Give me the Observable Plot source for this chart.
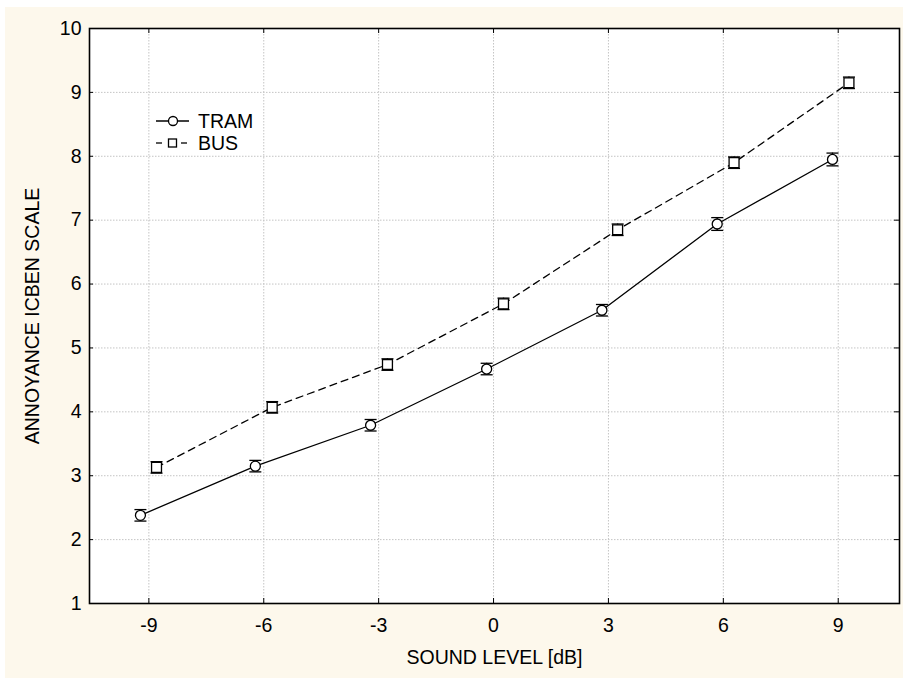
<!DOCTYPE html>
<html><head><meta charset="utf-8">
<script src="https://cdn.jsdelivr.net/npm/d3@7"></script>
<script src="https://cdn.jsdelivr.net/npm/@observablehq/plot@0.6"></script>
<style>
html,body{margin:0;padding:0;background:#fff;}
#wrap{position:relative;width:903px;height:678px;overflow:hidden;}
#bg{position:absolute;left:5px;top:7px;right:0;bottom:0;background:#fdf8ec;}
#chart{position:absolute;left:0;top:0;}
#legend{position:absolute;left:0;top:0;}
</style></head><body>
<div id="wrap"><div id="bg"></div><div id="chart"></div><svg id="legend" width="903" height="678"></svg></div>
<script>
// ---- data ----
const levels = [-9, -6, -3, 0, 3, 6, 9];
const yTicks = [1, 2, 3, 4, 5, 6, 7, 8, 9, 10];
const seriesNames = ["TRAM", "BUS"];
// plotted x positions (series drawn slightly offset around each level)
const tramX = [-9.22, -6.22, -3.21, -0.18, 2.83, 5.84, 8.85];
const tramY = [2.38, 3.15, 3.79, 4.67, 5.59, 6.94, 7.95];
const tramErr = [0.09, 0.09, 0.09, 0.09, 0.09, 0.10, 0.10];
const busX = [-8.80, -5.78, -2.77, 0.26, 3.24, 6.28, 9.28];
const busY = [3.13, 4.07, 4.74, 5.69, 6.85, 7.90, 9.15];
const busErr = [0.09, 0.09, 0.09, 0.09, 0.09, 0.09, 0.09];
const xLabel = "SOUND LEVEL [dB]";
const yLabel = "ANNOYANCE ICBEN SCALE";

const tram = levels.map((l, i) => ({level: l, x: tramX[i], y: tramY[i], lo: tramY[i] - tramErr[i], hi: tramY[i] + tramErr[i]}));
const bus = levels.map((l, i) => ({level: l, x: busX[i], y: busY[i], lo: busY[i] - busErr[i], hi: busY[i] + busErr[i]}));

const font = "'Liberation Sans', Arial, sans-serif";
const fs = 19.5;
const capSymbol = {draw(ctx) { ctx.moveTo(-6, 0); ctx.lineTo(6, 0); }};
const fmt = d => String(d);

const plotH = 575, plotW = 810;

const chart = Plot.plot({
  width: 903, height: 678,
  marginLeft: 89, marginRight: 4, marginTop: 28, marginBottom: 75,
  style: {fontFamily: font, fontSize: fs + "px", background: "transparent", color: "black", overflow: "visible"},
  x: {domain: [-10.55, 10.6]},
  y: {domain: [1, 10]},
  marks: [
    Plot.frame({fill: "white", stroke: "none"}),
    Plot.gridX(levels, {stroke: "#c4c4c4", strokeOpacity: 1, strokeDasharray: "1.5,1.5"}),
    Plot.gridY(yTicks, {stroke: "#c4c4c4", strokeOpacity: 1, strokeDasharray: "1.5,1.5"}),
    Plot.tickX(levels, {x: d => d, insetTop: plotH - 5, stroke: "black"}),
    Plot.tickX(levels, {x: d => d, insetBottom: plotH - 5, stroke: "black"}),
    Plot.tickY(yTicks, {y: d => d, insetLeft: plotW - 5, stroke: "black"}),
    Plot.tickY(yTicks, {y: d => d, insetRight: plotW - 4, stroke: "black"}),
    Plot.axisX(levels, {tickSize: 0, tickPadding: 15, label: null, fontSize: fs, tickFormat: fmt}),
    Plot.axisY(yTicks, {tickSize: 0, tickPadding: 8, label: null, fontSize: fs, tickFormat: fmt}),
    Plot.text([xLabel], {frameAnchor: "bottom", dy: 60, text: d => d, fontSize: fs}),
    Plot.text([yLabel], {frameAnchor: "left", dx: -57, rotate: -90, textAnchor: "middle", text: d => d, fontSize: fs}),
    Plot.line(tram, {x: "x", y: "y", stroke: "black", strokeWidth: 1.3}),
    Plot.line(bus, {x: "x", y: "y", stroke: "black", strokeWidth: 1.3, strokeDasharray: "7,5"}),
    Plot.ruleX(tram, {x: "x", y1: "lo", y2: "hi", stroke: "black", strokeWidth: 1.3}),
    Plot.ruleX(bus, {x: "x", y1: "lo", y2: "hi", stroke: "black", strokeWidth: 1.3}),
    Plot.dot(tram, {x: "x", y: "lo", symbol: capSymbol, stroke: "black", strokeWidth: 1.3}),
    Plot.dot(tram, {x: "x", y: "hi", symbol: capSymbol, stroke: "black", strokeWidth: 1.3}),
    Plot.dot(bus, {x: "x", y: "lo", symbol: capSymbol, stroke: "black", strokeWidth: 1.3}),
    Plot.dot(bus, {x: "x", y: "hi", symbol: capSymbol, stroke: "black", strokeWidth: 1.3}),
    Plot.dot(tram, {x: "x", y: "y", r: 5, symbol: "circle", fill: "white", stroke: "black", strokeWidth: 1.3}),
    Plot.dot(bus, {x: "x", y: "y", r: 5.6, symbol: "square", fill: "white", stroke: "black", strokeWidth: 1.3}),
    Plot.frame({stroke: "black", strokeWidth: 1.6})
  ]
});
document.getElementById("chart").appendChild(chart);

// ---- legend ----
const lg = d3.select("#legend").style("font-family", font).style("font-size", fs + "px");
const rows = [
  {name: seriesNames[0], y: 121, shape: "circle"},
  {name: seriesNames[1], y: 143, shape: "square"}
];
rows.forEach(r => {
  if (r.shape === "circle") {
    lg.append("line").attr("x1", 156).attr("x2", 189).attr("y1", r.y).attr("y2", r.y).attr("stroke", "black").attr("stroke-width", 1.3);
    lg.append("circle").attr("cx", 173).attr("cy", r.y).attr("r", 4.5).attr("fill", "white").attr("stroke", "black").attr("stroke-width", 1.3);
  } else {
    lg.append("line").attr("x1", 156).attr("x2", 162).attr("y1", r.y).attr("y2", r.y).attr("stroke", "black").attr("stroke-width", 1.3);
    lg.append("line").attr("x1", 181).attr("x2", 187).attr("y1", r.y).attr("y2", r.y).attr("stroke", "black").attr("stroke-width", 1.3);
    lg.append("rect").attr("x", 168.5).attr("y", r.y - 4).attr("width", 8).attr("height", 8).attr("fill", "white").attr("stroke", "black").attr("stroke-width", 1.3);
  }
  lg.append("text").attr("x", 198).attr("y", r.y).attr("dy", "0.36em").text(r.name);
});
</script>
</body></html>
